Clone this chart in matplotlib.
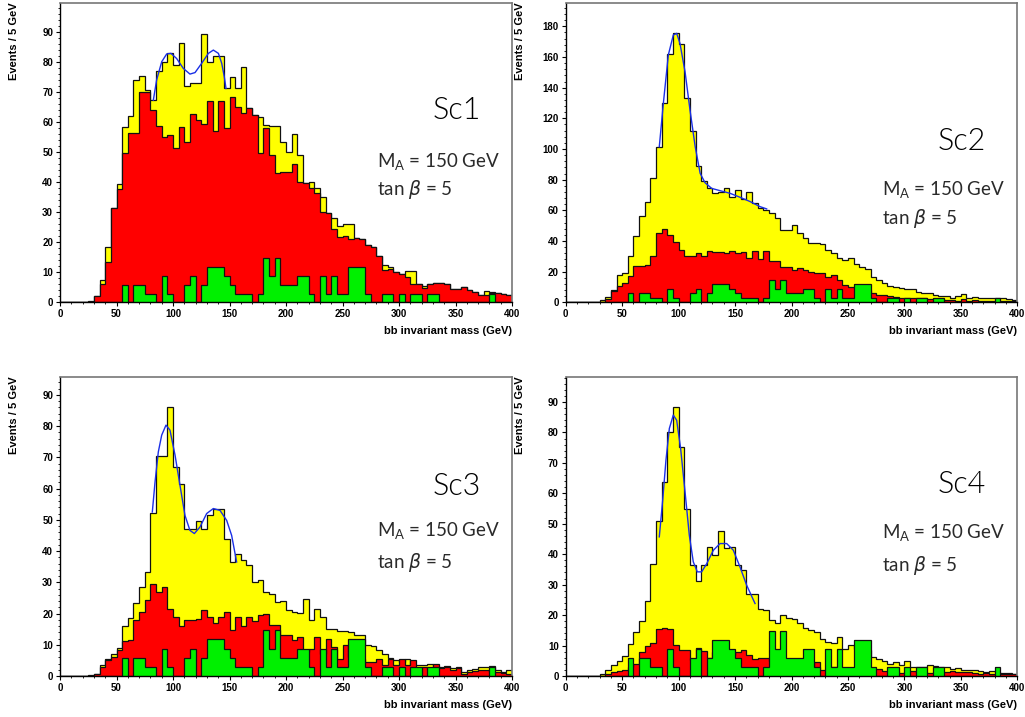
import numpy as np
import matplotlib.pyplot as plt
from matplotlib.ticker import MultipleLocator

# bb invariant mass, 80 bins of 5 GeV from 0 to 400
bin_edges = np.arange(0, 405, 5)

sc1_total = [0, 0, 0, 0, 0, 0.5, 2, 7.4, 18.6, 31.3,
             39.4, 58.3, 62.2, 74.1, 75.4, 70.8, 67.4, 77.1, 80, 83.2,
             79, 86.3, 72, 73.2, 73.2, 89.4, 80, 82, 82, 71.3,
             75.2, 71.3, 78.6, 64.7, 62.4, 61.7, 59.1, 58.8, 58.8, 53.6,
             50, 56, 49, 39.7, 40, 38, 35.2, 29.7, 28, 25.5,
             26, 26, 21.5, 21, 19, 18.5, 15.4, 12.5, 11.8, 10,
             9.5, 10.3, 10.3, 6, 5.5, 6, 6.5, 6.3, 6, 4.3,
             4.5, 5, 4, 3.5, 2.5, 3.8, 3.6, 3, 2.8, 2.5]
sc1_red = [0, 0, 0, 0, 0, 0, 2, 6, 13.6, 31.3,
           37.8, 49.7, 56.3, 56.6, 70.2, 70.2, 64.1, 58.8, 55, 55.8,
           51.3, 58.6, 53.6, 62.7, 60.8, 59.3, 67, 57, 67, 58,
           68.3, 65.2, 63.2, 64.7, 62.4, 49.7, 58, 49, 43, 43.6,
           43.5, 46, 40, 39.7, 38, 36.5, 30.2, 29.7, 24.5, 21.8,
           22, 21, 21.5, 21, 19, 18.5, 15.4, 10.8, 11, 10,
           9.5, 8.5, 6, 6, 4.8, 6, 6.5, 6.3, 6, 4.3,
           4.5, 5, 4, 3.5, 2.5, 2.6, 3.2, 3, 2.8, 2.5]

sc2_total = [0, 0, 0, 0, 0, 0, 1.5, 3.7, 8, 18,
             19, 30.4, 43.5, 56.3, 65.7, 81.3, 101.5, 129.8, 161.7, 175.4,
             168.5, 133, 111.7, 88.9, 79.1, 74.3, 71.5, 72.2, 74.8, 68.9,
             73.3, 67.4, 71.7, 64.6, 61.3, 60.2, 58, 54.8, 47.2, 47.2,
             50.4, 45, 41.7, 38.9, 38.5, 37.8, 34.1, 32, 28.7, 27.6,
             28.7, 24.8, 23.3, 21.5, 16.7, 14.6, 12.8, 10.7, 10.2, 9.1,
             8.5, 8.5, 7, 5.9, 5.9, 4.8, 4.1, 4.1, 3, 4.1,
             5.2, 3, 3.7, 3, 2.6, 2.6, 3, 2.6, 2, 1.5]
sc2_red = [0, 0, 0, 0, 0, 0, 0, 2, 7.6, 10.7,
           12.4, 17.2, 23.9, 23.9, 24.3, 30, 45, 47.6, 43.9, 39.6,
           34.1, 30.2, 30.2, 32, 30.2, 33.7, 33, 32.6, 32, 33.7,
           32.4, 33, 28.7, 33.7, 28, 33.7, 27, 27, 23.3, 23.3,
           21, 22.2, 21, 20, 18.9, 18.9, 16.7, 17.8, 14.6, 11.3,
           10.2, 9.6, 8.9, 8, 5.9, 4.8, 4.8, 4.1, 3.7, 3,
           3, 2.6, 2.6, 3, 2.2, 2.2, 2, 1.5, 1.5, 1.1,
           2, 1.1, 1.5, 0.9, 0.9, 1.1, 0.9, 0.9, 0.9, 0.7]

sc3_total = [0, 0, 0, 0, 0, 0.3, 0.7, 3.4, 5.5, 7.2,
             9, 16, 18.6, 23.4, 28.5, 33.3, 52.3, 70.3, 70.3, 86.1,
             67, 61.6, 47.2, 47.2, 49.6, 47.2, 51.6, 53.6, 53.6, 44,
             36.5, 39.2, 37, 35.4, 30.1, 30.6, 27, 26.3, 23.7, 24,
             21, 20.5, 20.3, 24.8, 17.8, 21.3, 18.9, 15, 15, 14.3,
             14.3, 14, 13, 13, 9.8, 9.6, 8.4, 7.2, 5.8, 5,
             4.5, 5.5, 3.6, 3.4, 3.6, 3.9, 3.2, 2.9, 3.1, 2.6,
             3, 1.3, 1.8, 2.3, 2.9, 2.9, 3.2, 2, 1.3, 2]
sc3_red = [0, 0, 0, 0, 0, 0, 0.7, 2.9, 5, 6,
           8.2, 11.1, 11.6, 17.8, 20.5, 24.2, 29.6, 26.9, 28.5, 21.6,
           18.9, 16, 17.8, 17.8, 18.4, 21, 18.9, 17.1, 18.9, 20.5,
           14.6, 18.9, 16, 18.9, 17.5, 19.4, 19.7, 16.4, 16.4, 13,
           13, 11.4, 12.5, 7.7, 8.8, 12.5, 7.2, 12, 9.3, 5.5,
           9.8, 6.1, 5.3, 5.5, 4.5, 4.5, 5.5, 3.4, 5.3, 3.4,
           5.3, 3.4, 5, 2.6, 2.9, 2.3, 3.9, 2.6, 2.9, 1.8,
           2.6, 0.7, 1.3, 1.5, 1.8, 2, 1.3, 1.3, 1, 0.7]

sc4_total = [0, 0, 0, 0, 0, 0, 0.8, 1.9, 3.5, 4.8,
             6.5, 10.6, 14.5, 18, 24.5, 36.9, 50.8, 63.7, 80, 88.4,
             75.2, 54.7, 36.6, 31.1, 36.6, 42.4, 39.9, 47.5, 42.1, 42.4,
             36.6, 34.9, 27, 27, 21.9, 21.6, 18.3, 17.5, 19.9, 19,
             18.8, 17.5, 15.8, 15, 14.5, 12.3, 11.2, 11, 12.8, 9,
             10.1, 9, 8.4, 8.4, 6.2, 5.7, 4.8, 4, 4.6, 3.5,
             4.8, 3, 3, 3, 3.5, 3.3, 3, 3, 2.4, 2.6,
             1.9, 2.1, 2.1, 1.6, 1.3, 1.5, 1.3, 1, 1, 0.8]
sc4_red = [0, 0, 0, 0, 0, 0, 0, 0.8, 1.3, 1.5,
           2.1, 3, 4, 7.9, 9.9, 11, 15.6, 15.8, 15.6, 10.1,
           8.4, 8.4, 5.2, 9.2, 8.1, 6, 8, 8, 8.5, 7,
           7.9, 8.4, 7, 5.7, 5.9, 5.9, 5, 5, 4, 3.5,
           3.5, 2.5, 2, 2, 4.6, 2, 2, 3, 2, 2,
           2, 2, 2, 2, 2.4, 2.4, 1.5, 1.2, 1.5, 1,
           1.2, 1.5, 1, 1.2, 1, 1.2, 1, 1.3, 1.5, 1.3,
           1.2, 1.2, 1, 0.8, 1, 0.8, 0.6, 0.6, 0.5, 0.5]

# same green sample in all four scenarios
green_counts = [0, 0, 0, 0, 0, 0, 0, 0, 0, 0,
                0, 5.9, 0, 5.9, 5.9, 2.9, 2.9, 0, 8.8, 2.9,
                0, 0, 5.9, 8.8, 0, 5.9, 11.8, 11.8, 11.8, 8.8,
                5.9, 2.9, 2.9, 2.9, 0, 2.9, 14.7, 8.8, 14.7, 5.9,
                5.9, 5.9, 8.8, 8.8, 2.9, 0, 8.8, 2.9, 8.8, 2.9,
                2.9, 11.8, 11.8, 11.8, 2.9, 0, 0, 2.9, 2.9, 0,
                2.9, 0, 2.9, 2.9, 0, 2.9, 2.9, 0, 0, 0,
                0, 0, 0, 0, 0, 0, 2.9, 0, 0, 0]

# fitted curves (blue)
sc1_fit_x = [82.6, 85.5, 90, 94.4, 98.2, 103.2, 109.1, 115, 119.5, 125.4, 131.3, 135.7, 140.2, 143.1, 145.4, 146.9]
sc1_fit_y = [67.4, 74.1, 80.2, 82.8, 83, 81.3, 78, 76.1, 76.6, 79.7, 83, 84.1, 83, 79.7, 75.2, 71.3]
sc2_fit_x = [82.9, 86.5, 90.9, 95.3, 98.3, 101.2, 105.7, 110.1, 114.7, 119.1, 123.4, 129.3, 136.7, 145.5, 154.4, 163.3, 172.1, 178]
sc2_fit_y = [101.5, 129.8, 161.3, 174.3, 175.4, 168.9, 150.4, 125.4, 101.5, 84.1, 78, 74.3, 72.8, 71.1, 68.5, 65.7, 62.4, 60.9]
sc3_fit_x = [81.7, 84.1, 87, 90, 93.8, 97.3, 101.8, 106.2, 110.6, 115, 118.9, 123.9, 129.8, 135.7, 141.6, 147.5, 151.9, 156.3]
sc3_fit_y = [52.5, 62.1, 71.7, 77.1, 80.3, 78.7, 70.7, 61, 51.4, 46.6, 45.6, 47.7, 52, 53.6, 53, 49.8, 45, 36.5]
sc4_fit_x = [82.9, 85.9, 88.8, 91.8, 95.3, 98.3, 101.8, 105.7, 109.5, 113, 116.6, 120.4, 124.9, 130.8, 136.7, 142.6, 148.5, 154.4, 160.3, 167.7]
sc4_fit_y = [45.7, 57.7, 70.9, 81.3, 85.7, 84, 74.7, 60.5, 46.2, 37.5, 34.2, 34.2, 36.9, 41.3, 43.5, 43.5, 41.3, 35.8, 29.8, 23.8]

scenario_names = ["Sc1", "Sc2", "Sc3", "Sc4"]
totals = [sc1_total, sc2_total, sc3_total, sc4_total]
reds = [sc1_red, sc2_red, sc3_red, sc4_red]
fits = [(sc1_fit_x, sc1_fit_y), (sc2_fit_x, sc2_fit_y),
        (sc3_fit_x, sc3_fit_y), (sc4_fit_x, sc4_fit_y)]

W, H = 1025, 717
fig = plt.figure(figsize=(W / 100, H / 100), dpi=100)

# axes boxes in pixels: left, top, right, bottom
boxes = [(60, 3.3, 512, 302.3), (565.7, 3.3, 1017.3, 302.3),
         (60, 377, 512, 676), (565.7, 377, 1017.3, 676)]
ymaxes = [99.7, 195, 95.7, 98.2]
ymajor = [10, 20, 10, 10]
# text positions (axes fraction): Sc label y, M_A y, tan beta y
text_y = [(0.643, 0.469, 0.376), (0.539, 0.376, 0.279),
          (0.635, 0.485, 0.381), (0.639, 0.478, 0.371)]

light = dict(family=["Lato", "DejaVu Sans"], fontweight=300, color="black")
thin = dict(family=["Lato", "DejaVu Sans"], fontweight="normal", color="#2a2a2a")
bold = dict(family=["Liberation Sans", "DejaVu Sans"], fontweight="bold")

for i in range(4):
    l, t, r, b = boxes[i]
    ax = fig.add_axes([l / W, 1 - b / H, (r - l) / W, (b - t) / H])

    for vals, col in [(totals[i], "#ffff00"), (reds[i], "#ff0000"), (green_counts, "#00f000")]:
        ax.stairs(vals, bin_edges, fill=True, facecolor=col, edgecolor="none")
        ax.stairs(vals, bin_edges, color="#111111", linewidth=0.9)

    fx, fy = fits[i]
    ax.plot(fx, fy, color="#1a2fe6", linewidth=1.0)

    ax.set_xlim(0, 400)
    ax.set_ylim(0, ymaxes[i])
    ax.xaxis.set_major_locator(MultipleLocator(50))
    ax.xaxis.set_minor_locator(MultipleLocator(10))
    ax.yaxis.set_major_locator(MultipleLocator(ymajor[i]))
    ax.yaxis.set_minor_locator(MultipleLocator(ymajor[i] / 5))
    ax.tick_params(which="major", direction="out", length=3, width=0.8, pad=2,
                   labelsize=7)
    ax.tick_params(which="minor", direction="out", length=1.5, width=0.6)
    for lab in ax.get_xticklabels() + ax.get_yticklabels():
        lab.set_fontweight("bold")
        lab.set_family(["Liberation Sans", "DejaVu Sans"])

    for side in ["left", "bottom"]:
        ax.spines[side].set_color("black")
        ax.spines[side].set_linewidth(1.0)
    for side in ["top", "right"]:
        ax.spines[side].set_color("#777777")
        ax.spines[side].set_linewidth(1.2)

    sy, my, ty = text_y[i]
    ax.text(0.878, sy, scenario_names[i], transform=ax.transAxes,
            ha="center", va="center", fontsize=22, **light)
    ax.text(0.701, my, r"M$_\mathregular{A}$ = 150 GeV", transform=ax.transAxes,
            ha="left", va="center", fontsize=13.5, **thin)
    ax.text(0.701, ty, r"tan $\beta$ = 5", transform=ax.transAxes,
            ha="left", va="center", fontsize=13.5, **thin)

    ax.text(1.0, -(331 - 302.3) / 299, "bb invariant mass (GeV)",
            transform=ax.transAxes, ha="right", va="center", fontsize=8, **bold)
    lab_x = 14 if l < 100 else 520
    fig.text(lab_x / W, 1 - (t - 0.5) / H, "Events / 5 GeV", rotation=90,
             ha="center", va="top", fontsize=8, **bold)

fig.savefig("out.png", dpi=100)
